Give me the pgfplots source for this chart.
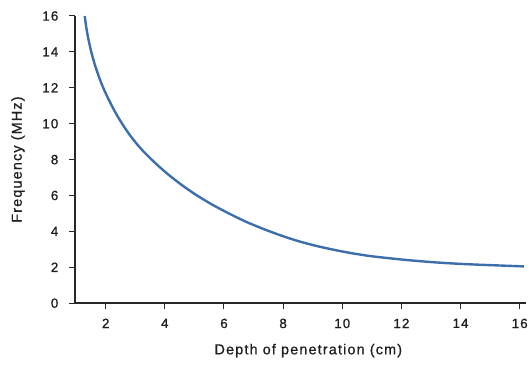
\documentclass[border=0pt]{standalone}
\usepackage{pgfplots}
\pgfplotsset{compat=1.18}
\usepackage{fontspec}
\setmainfont{Liberation Sans}[LetterSpace=8, FakeBold=0.8]
\definecolor{curveblue}{RGB}{60,110,172}
\definecolor{axisgray}{RGB}{40,40,40}
\pgfplotstableread{
x y
1.29 16.00
1.34 15.40
1.40 14.83
1.50 14.08
1.63 13.30
1.80 12.48
1.97 11.80
2.20 11.02
2.42 10.36
2.67 9.71
2.92 9.14
3.20 8.59
3.49 8.10
3.82 7.59
4.16 7.11
4.60 6.55
5.06 6.03
5.56 5.53
6.07 5.08
6.74 4.54
7.42 4.08
8.00 3.73
8.55 3.44
9.10 3.20
9.67 2.99
10.30 2.79
11.02 2.61
12.15 2.41
13.27 2.26
14.39 2.16
16.14 2.05
}\curvedata
\begin{document}
\begin{tikzpicture}
\begin{axis}[
  scale only axis, width=452bp, height=288bp,
  xmin=0.955, xmax=16.2, ymin=0, ymax=16,
  axis lines=left,
  axis line style={-, line width=1.7bp, color=axisgray},
  xtick={2,4,...,16}, ytick={0,2,...,16},
  tick align=outside, major tick length=6bp,
  tick style={line width=1bp, color=axisgray},
  /pgf/number format/assume math mode=true,
  ticklabel style={font=\fontsize{13.5}{13.5}\selectfont, text=black!88},
  yticklabel style={xshift=-7bp},
  xticklabel style={yshift=-6bp},
  xlabel={Depth of penetration (cm)},
  ylabel={Frequency (MHz)},
  label style={font=\fontsize{14.5}{14.5}\selectfont, text=black!88},
  xlabel style={at={(axis description cs:0.518,-0.165)}, anchor=center},
  ylabel style={at={(axis description cs:-0.126,0.5)}, anchor=center},
  clip=false,
]
\addplot[smooth, color=curveblue, line width=2.4bp] table {\curvedata};
\end{axis}
\path (current axis.south west) ++(-75bp,-64bp) rectangle ++(531bp,368bp);
\end{tikzpicture}
\end{document}
